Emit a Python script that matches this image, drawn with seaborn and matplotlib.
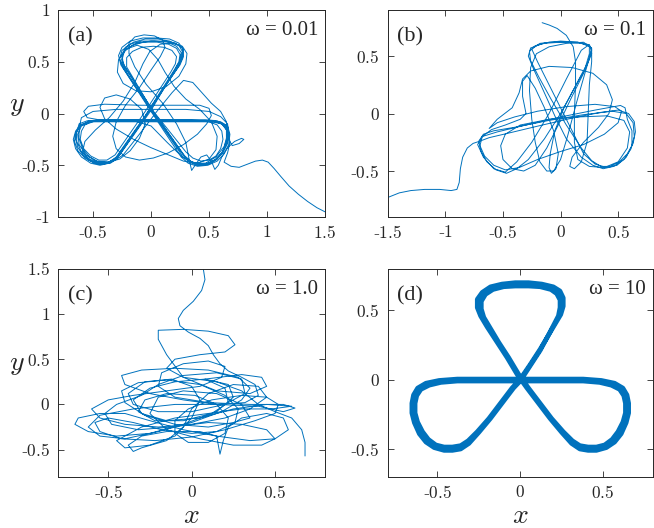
import matplotlib
matplotlib.use("Agg")
import matplotlib.pyplot as plt
import seaborn as sns

# trajectory waypoints (x, y)
traj_a = [
    # incoming tail
    (1.50, -0.95), (1.43, -0.91), (1.35, -0.85), (1.27, -0.78), (1.19, -0.70), (1.12, -0.61),
    (1.06, -0.53), (1.01, -0.47), (0.96, -0.45), (0.90, -0.46), (0.83, -0.49), (0.76, -0.52),
    (0.69, -0.51), (0.63, -0.47),
    (0.66, -0.38), (0.68, -0.28), (0.67, -0.18), (0.63, -0.11), (0.56, -0.08), (0.45, -0.07),
    (0.20, -0.07), (-0.10, -0.07), (-0.40, -0.07), (-0.53, -0.08), (-0.60, -0.11), (-0.64, -0.17),
    (-0.65, -0.25), (-0.63, -0.33), (-0.58, -0.41), (-0.51, -0.46), (-0.43, -0.49), (-0.36, -0.47),
    (-0.30, -0.42), (-0.05, -0.02), (0.20, 0.42), (0.24, 0.50), (0.25, 0.57), (0.22, 0.63),
    (0.15, 0.67), (0.05, 0.69), (-0.06, 0.69), (-0.16, 0.66), (-0.23, 0.60), (-0.25, 0.52),
    (-0.22, 0.44), (0.03, 0.00), (0.28, -0.40), (0.34, -0.46), (0.41, -0.49), (0.49, -0.48),
    (0.56, -0.44), (0.62, -0.37), (0.65, -0.28), (0.66, -0.18), (0.63, -0.11), (0.57, -0.08),
    (0.48, -0.07), (0.20, -0.07), (-0.10, -0.07), (-0.40, -0.07), (-0.54, -0.08),
    (-0.61, -0.11), (-0.65, -0.17), (-0.67, -0.25), (-0.65, -0.34), (-0.60, -0.42), (-0.52, -0.48),
    (-0.44, -0.50), (-0.36, -0.48), (-0.29, -0.43), (0.00, 0.05), (0.24, 0.46), (0.27, 0.54),
    (0.28, 0.62), (0.24, 0.68), (0.16, 0.72), (0.05, 0.73), (-0.07, 0.73), (-0.18, 0.70),
    (-0.25, 0.64), (-0.28, 0.56), (-0.26, 0.47), (0.00, 0.02), (0.26, -0.42), (0.32, -0.48),
    (0.40, -0.51), (0.49, -0.50), (0.57, -0.46), (0.63, -0.39), (0.67, -0.30), (0.68, -0.20),
    (0.66, -0.12), (0.60, -0.08), (0.50, -0.07), (0.20, -0.06), (-0.10, -0.06), (-0.40, -0.07),
    (-0.52, -0.08),
    (-0.57, -0.11), (-0.60, -0.17), (-0.61, -0.25), (-0.58, -0.34), (-0.52, -0.41), (-0.45, -0.45),
    (-0.38, -0.45), (-0.31, -0.40), (-0.05, 0.02), (0.17, 0.40), (0.21, 0.48), (0.22, 0.55),
    (0.18, 0.61), (0.11, 0.64), (0.02, 0.65), (-0.08, 0.64), (-0.16, 0.60), (-0.21, 0.54),
    (-0.21, 0.45), (0.00, 0.05), (0.30, -0.37), (0.36, -0.43), (0.43, -0.46), (0.50, -0.45),
    (0.56, -0.41), (0.60, -0.34), (0.62, -0.25), (0.61, -0.17), (0.57, -0.11), (0.50, -0.08),
    (0.40, -0.07), (0.10, -0.07),
    (-0.20, -0.07), (-0.45, -0.06), (-0.55, -0.04), (-0.58, 0.02), (-0.54, 0.07), (-0.40, 0.09),
    (-0.10, 0.08), (0.20, 0.08), (0.42, 0.08), (0.50, 0.05), (0.52, -0.02), (0.48, -0.10),
    (0.40, -0.20), (0.28, -0.30), (0.15, -0.38), (0.02, -0.43), (-0.10, -0.45), (-0.22, -0.42),
    (-0.30, -0.34), (-0.33, -0.22), (-0.30, -0.08), (-0.22, 0.08), (-0.10, 0.25), (0.00, 0.42),
    (0.08, 0.55), (0.12, 0.64), (0.10, 0.71), (0.03, 0.75), (-0.06, 0.76), (-0.14, 0.74),
    (-0.19, 0.68), (-0.19, 0.58), (-0.14, 0.45), (-0.04, 0.28), (0.10, 0.10), (0.22, -0.10),
    (0.30, -0.28), (0.33, -0.45), (0.35, -0.55), (0.38, -0.50), (0.43, -0.42), (0.48, -0.40),
    (0.52, -0.46), (0.55, -0.54), (0.58, -0.50), (0.61, -0.42), (0.66, -0.33), (0.72, -0.27),
    (0.78, -0.24), (0.80, -0.25), (0.76, -0.29), (0.70, -0.31), (0.67, -0.25), (0.66, -0.16),
    (0.61, -0.10), (0.52, -0.08), (0.30, -0.08), (0.00, -0.08), (-0.30, -0.08), (-0.50, -0.08),
    (-0.60, -0.12), (-0.63, -0.20), (-0.62, -0.30), (-0.56, -0.40), (-0.47, -0.46), (-0.37, -0.47),
    (-0.27, -0.44), (-0.18, -0.36), (-0.10, -0.24), (-0.05, -0.10), (-0.08, 0.04), (-0.18, 0.14),
    (-0.30, 0.18), (-0.40, 0.15), (-0.44, 0.06), (-0.40, -0.05), (-0.30, -0.15), (-0.15, -0.25),
    (0.00, -0.33), (0.15, -0.40), (0.28, -0.46), (0.40, -0.48), (0.50, -0.44), (0.56, -0.35),
    (0.57, -0.22), (0.52, -0.08), (0.42, 0.04), (0.30, 0.14), (0.20, 0.26), (0.12, 0.40),
    (0.06, 0.52), (-0.02, 0.62), (-0.12, 0.66), (-0.22, 0.62), (-0.28, 0.52), (-0.29, 0.40),
    (-0.24, 0.29), (-0.13, 0.22), (0.00, 0.21), (0.13, 0.26), (0.24, 0.36), (0.30, 0.48),
    (0.31, 0.58), (0.27, 0.65), (0.18, 0.68), (0.08, 0.67), (-0.01, 0.60), (-0.07, 0.48),
    (-0.14, 0.30), (-0.24, 0.12), (-0.36, -0.04), (-0.48, -0.16), (-0.57, -0.27), (-0.59, -0.37),
    (-0.54, -0.45), (-0.45, -0.49), (-0.35, -0.48), (-0.24, -0.40), (-0.10, -0.20), (0.05, 0.02),
    (0.18, 0.20), (0.28, 0.32), (0.36, 0.30), (0.44, 0.20), (0.52, 0.10), (0.60, 0.02),
    (0.65, -0.08), (0.66, -0.20), (0.63, -0.32), (0.56, -0.42), (0.47, -0.48), (0.37, -0.48),
    (0.27, -0.42), (0.14, -0.28), (0.00, -0.12), (-0.15, -0.07), (-0.35, -0.06), (-0.53, -0.07),
    (-0.61, -0.12), (-0.65, -0.19), (-0.66, -0.27), (-0.63, -0.36), (-0.57, -0.43), (-0.49, -0.48),
    (-0.41, -0.49), (-0.33, -0.46), (-0.27, -0.40), (0.00, 0.03), (0.21, 0.43), (0.25, 0.51),
    (0.26, 0.59), (0.22, 0.65), (0.14, 0.69), (0.03, 0.70), (-0.08, 0.70), (-0.18, 0.67),
    (-0.25, 0.61), (-0.27, 0.53), (-0.24, 0.44), (0.02, 0.00), (0.27, -0.41), (0.33, -0.47),
    (0.40, -0.50), (0.48, -0.49), (0.56, -0.45), (0.62, -0.38), (0.66, -0.29), (0.67, -0.19),
    (0.64, -0.11), (0.57, -0.07), (0.47, -0.06), (0.20, -0.06), (-0.10, -0.06), (-0.40, -0.06),
    (-0.55, -0.07),
    (-0.62, -0.10), (-0.64, -0.18), (-0.64, -0.27), (-0.60, -0.37), (-0.53, -0.44), (-0.44, -0.48),
    (-0.35, -0.47), (-0.28, -0.41), (-0.12, -0.15), (0.05, 0.15), (0.18, 0.36), (0.25, 0.47),
    (0.28, 0.55), (0.27, 0.63), (0.21, 0.68), (0.12, 0.70), (0.00, 0.70), (-0.12, 0.68),
    (-0.21, 0.63), (-0.25, 0.56), (-0.25, 0.48), (-0.20, 0.38), (-0.05, 0.12), (0.12, -0.15),
    (0.25, -0.36), (0.32, -0.45), (0.40, -0.49), (0.48, -0.49), (0.55, -0.45), (0.61, -0.38),
    (0.65, -0.30), (0.67, -0.20), (0.66, -0.10), (0.60, -0.03), (0.50, 0.02), (0.30, 0.04),
    (0.00, 0.04), (-0.30, 0.04), (-0.50, 0.02), (-0.60, -0.04),
    (-0.62, -0.14), (-0.62, -0.24), (-0.59, -0.34), (-0.53, -0.42), (-0.45, -0.47), (-0.37, -0.47),
    (-0.30, -0.43), (-0.02, 0.02), (0.22, 0.44), (0.26, 0.52), (0.27, 0.60), (0.24, 0.66),
    (0.16, 0.70), (0.06, 0.72), (-0.05, 0.72), (-0.15, 0.69), (-0.22, 0.64), (-0.25, 0.57),
    (-0.24, 0.48), (0.02, 0.02), (0.29, -0.41), (0.35, -0.47), (0.42, -0.50), (0.50, -0.49),
    (0.57, -0.44), (0.62, -0.36), (0.65, -0.26), (0.65, -0.16), (0.61, -0.10), (0.54, -0.07),
    (0.45, -0.07),
]

traj_b = [
    # incoming tail
    (-1.50, -0.73), (-1.40, -0.69), (-1.30, -0.67), (-1.18, -0.66), (-1.05, -0.66), (-0.95, -0.67),
    (-0.90, -0.66), (-0.88, -0.60), (-0.87, -0.48), (-0.85, -0.38), (-0.81, -0.30), (-0.76, -0.26),
    (-0.70, -0.24),
    (-0.62, -0.21), (-0.45, -0.17), (-0.20, -0.11), (0.10, -0.04), (0.35, 0.01), (0.50, 0.03),
    (0.59, 0.00), (0.64, -0.07), (0.65, -0.16), (0.63, -0.26), (0.58, -0.35), (0.51, -0.42),
    (0.43, -0.46), (0.35, -0.46), (0.27, -0.41), (0.18, -0.30), (0.05, -0.10), (-0.08, 0.12),
    (-0.19, 0.32), (-0.26, 0.46), (-0.27, 0.54), (-0.22, 0.59), (-0.10, 0.62), (0.05, 0.62),
    (0.18, 0.61), (0.26, 0.58), (0.27, 0.52), (0.22, 0.40), (0.12, 0.22), (0.00, 0.00),
    (-0.14, -0.22), (-0.28, -0.40), (-0.38, -0.48), (-0.47, -0.52), (-0.56, -0.49), (-0.64, -0.42),
    (-0.69, -0.33), (-0.71, -0.24), (-0.67, -0.18), (-0.58, -0.15),
    (-0.40, -0.12), (-0.10, -0.06), (0.20, -0.01), (0.45, 0.02), (0.57, 0.00), (0.63, -0.08),
    (0.64, -0.20), (0.61, -0.31), (0.55, -0.40), (0.46, -0.46), (0.37, -0.48), (0.28, -0.45),
    (0.18, -0.38), (0.05, -0.22), (-0.05, -0.02), (-0.15, 0.20), (-0.24, 0.40), (-0.28, 0.50),
    (-0.26, 0.57), (-0.15, 0.61), (0.00, 0.62), (0.15, 0.62), (0.24, 0.60), (0.27, 0.56),
    (0.24, 0.45), (0.15, 0.28), (0.03, 0.05), (-0.05, -0.15), (-0.09, -0.35), (-0.10, -0.47),
    (-0.08, -0.52), (-0.04, -0.48), (-0.02, -0.35), (-0.06, -0.15), (-0.14, 0.05), (-0.22, 0.22),
    (-0.29, 0.33), (-0.33, 0.28), (-0.33, 0.15), (-0.30, 0.00),
    (-0.35, -0.05), (-0.48, -0.10), (-0.60, -0.14), (-0.68, -0.20), (-0.70, -0.28), (-0.66, -0.37),
    (-0.58, -0.45), (-0.48, -0.49), (-0.36, -0.47), (-0.20, -0.40), (0.00, -0.33), (0.20, -0.27),
    (0.38, -0.18), (0.50, -0.08), (0.53, 0.02), (0.47, 0.06), (0.30, 0.08), (0.05, 0.06),
    (-0.20, 0.02), (-0.40, -0.03), (-0.55, -0.08),
    (-0.62, -0.13), (-0.55, -0.05), (-0.42, 0.05), (-0.36, 0.18), (-0.33, 0.30), (-0.26, 0.37),
    (-0.10, 0.41), (0.10, 0.40), (0.28, 0.35), (0.40, 0.25), (0.45, 0.12), (0.42, 0.00),
    (0.33, -0.12), (0.20, -0.25), (0.10, -0.38), (0.08, -0.46), (0.12, -0.48), (0.18, -0.42),
    (0.23, -0.25), (0.24, 0.00), (0.25, 0.25), (0.27, 0.45), (0.27, 0.57), (0.20, 0.62),
    (0.05, 0.61), (-0.10, 0.58), (-0.21, 0.52), (-0.26, 0.40), (-0.27, 0.20), (-0.25, -0.05),
    (-0.22, -0.25), (-0.18, -0.42), (-0.12, -0.50), (-0.06, -0.50), (0.00, -0.40), (0.06, -0.20),
    (0.14, 0.10), (0.22, 0.38), (0.27, 0.55), (0.25, 0.60),
    (0.18, 0.55), (0.05, 0.30), (-0.10, 0.00), (-0.25, -0.25), (-0.38, -0.42), (-0.48, -0.51),
    (-0.58, -0.48), (-0.67, -0.38), (-0.72, -0.27), (-0.68, -0.20), (-0.55, -0.16), (-0.30, -0.10),
    (0.00, -0.03), (0.30, 0.03), (0.52, 0.07), (0.56, 0.05), (0.58, -0.05), (0.62, -0.15),
    (0.62, -0.28), (0.57, -0.38), (0.49, -0.45), (0.40, -0.47), (0.30, -0.44), (0.20, -0.35),
    (0.10, -0.15), (0.00, 0.05), (-0.10, 0.25), (-0.20, 0.45), (-0.25, 0.56), (-0.18, 0.61),
    (0.00, 0.63), (0.15, 0.62), (0.25, 0.59),
    (0.25, 0.52), (0.20, 0.35), (0.10, 0.15), (-0.02, -0.10), (-0.12, -0.30), (-0.22, -0.45),
    (-0.32, -0.50), (-0.42, -0.48), (-0.50, -0.40), (-0.52, -0.28), (-0.48, -0.18), (-0.35, -0.10),
    (-0.10, -0.05), (0.15, -0.03), (0.40, -0.02), (0.55, -0.06), (0.60, -0.16), (0.58, -0.30),
    (0.50, -0.42), (0.38, -0.47), (0.25, -0.46), (0.15, -0.40), (0.12, -0.25), (0.12, 0.00),
    (0.13, 0.25), (0.13, 0.45), (0.11, 0.58), (0.05, 0.68), (-0.03, 0.74), (-0.10, 0.77),
    (-0.16, 0.79),
]

traj_c = [
    # incoming tail from the top
    (0.07, 1.50), (0.08, 1.38), (0.06, 1.26), (0.01, 1.14), (-0.05, 1.04), (-0.08, 0.95),
    (-0.07, 0.87), (-0.02, 0.80), (0.05, 0.73), (0.10, 0.65), (0.13, 0.55), (0.17, 0.45),
    (0.22, 0.37), (0.30, 0.30), (0.38, 0.22), (0.40, 0.10), (0.32, 0.02), (0.15, 0.00),
    (-0.05, 0.05), (-0.25, 0.12), (-0.40, 0.22), (-0.42, 0.32), (-0.30, 0.38), (-0.10, 0.40),
    (0.10, 0.38), (0.28, 0.30), (0.35, 0.18), (0.30, 0.05), (0.18, -0.08), (0.00, -0.20),
    (-0.20, -0.30), (-0.40, -0.38), (-0.55, -0.35), (-0.62, -0.25), (-0.55, -0.12), (-0.35, -0.05),
    (-0.10, 0.00), (0.15, 0.00), (0.40, -0.02), (0.55, -0.08), (0.62, -0.04), (0.55, 0.00),
    (0.35, 0.00), (0.10, 0.02), (-0.10, 0.08), (-0.20, 0.20), (-0.18, 0.35), (-0.05, 0.45),
    (0.10, 0.48), (0.20, 0.42), (0.18, 0.30), (0.05, 0.20), (-0.15, 0.15), (-0.35, 0.10),
    (-0.50, 0.05), (-0.60, -0.05), (-0.55, -0.15), (-0.40, -0.22), (-0.20, -0.25), (0.00, -0.22),
    (0.20, -0.15), (0.35, -0.05), (0.45, 0.08), (0.40, 0.20), (0.25, 0.22), (0.10, 0.12),
    (0.00, -0.05), (-0.05, -0.25), (-0.15, -0.40), (-0.30, -0.48), (-0.35, -0.52), (-0.38, -0.45),
    (-0.30, -0.35), (-0.15, -0.30), (0.05, -0.30), (0.15, -0.35), (0.17, -0.55), (0.19, -0.40),
    (0.22, -0.25), (0.30, -0.15), (0.45, -0.10), (0.55, -0.15), (0.58, -0.28), (0.50, -0.38),
    (0.35, -0.40), (0.15, -0.35), (-0.05, -0.28), (-0.25, -0.18), (-0.40, -0.10), (-0.55, -0.10),
    (-0.68, -0.15), (-0.70, -0.22), (-0.62, -0.30), (-0.45, -0.35), (-0.25, -0.32), (-0.05, -0.22),
    (0.15, -0.08), (0.25, 0.08), (0.22, 0.22), (0.08, 0.28), (-0.10, 0.25), (-0.25, 0.18),
    (-0.35, 0.05), (-0.30, -0.10), (-0.15, -0.18), (0.05, -0.15), (0.25, -0.05), (0.45, 0.00),
    (0.60, -0.02), (0.48, -0.05), (0.30, -0.05), (0.10, -0.10), (-0.10, -0.15), (-0.30, -0.25),
    (-0.45, -0.40), (-0.40, -0.48), (-0.25, -0.45), (-0.10, -0.35), (0.00, -0.15), (0.05, 0.05),
    (0.00, 0.20), (-0.12, 0.28), (-0.28, 0.25), (-0.38, 0.12), (-0.35, 0.00), (-0.20, -0.08),
    (0.00, -0.08), (0.20, 0.00), (0.32, 0.12), (0.30, 0.28), (0.15, 0.35), (-0.05, 0.32),
    (-0.20, 0.22), (-0.30, 0.10), (-0.45, 0.00), (-0.52, -0.10), (-0.48, -0.22), (-0.32, -0.28),
    (-0.12, -0.25), (0.10, -0.20), (0.30, -0.22), (0.45, -0.28), (0.50, -0.38), (0.42, -0.45),
    (0.25, -0.45), (0.05, -0.38), (-0.15, -0.28), (-0.25, -0.10), (-0.20, 0.08), (-0.05, 0.15),
    (0.15, 0.12), (0.30, 0.00), (0.35, -0.15), (0.25, -0.20), (0.10, -0.25), (-0.10, -0.22),
    (-0.28, -0.12), (-0.40, 0.02), (-0.42, 0.15), (-0.32, 0.24), (-0.15, 0.27), (0.05, 0.22),
    (0.20, 0.10), (0.28, -0.05), (0.26, -0.20), (0.15, -0.30), (0.00, -0.32), (-0.18, -0.28),
    (-0.35, -0.20), (-0.50, -0.15), (-0.58, -0.20), (-0.55, -0.30), (-0.42, -0.38), (-0.22, -0.40),
    (0.00, -0.36), (0.20, -0.28), (0.38, -0.18), (0.50, -0.10), (0.52, 0.00), (0.45, 0.08),
    (0.30, 0.10), (0.12, 0.05), (-0.02, -0.05), (-0.10, -0.18), (-0.10, -0.32), (-0.02, -0.42),
    (0.10, -0.42), (0.20, -0.32), (0.22, -0.15), (0.15, 0.00), (0.02, 0.10), (-0.15, 0.12),
    (-0.28, 0.05), (-0.32, -0.08), (-0.22, -0.18), (-0.05, -0.18), (0.12, -0.10), (0.22, 0.02),
    (0.20, 0.18), (0.08, 0.28), (0.30, 0.33), (0.42, 0.30), (0.45, 0.20), (0.35, 0.12),
    (0.15, 0.15), (-0.05, 0.30), (-0.15, 0.55), (-0.20, 0.72), (-0.20, 0.82), (-0.05, 0.83),
    (0.10, 0.81), (0.22, 0.76), (0.26, 0.66), (0.20, 0.58), (0.05, 0.55), (-0.10, 0.50),
    (-0.15, 0.40), (-0.05, 0.30), (0.15, 0.25), (0.30, 0.15), (0.40, 0.00), (0.50, -0.08),
    (0.60, -0.15), (0.66, -0.28), (0.68, -0.42), (0.68, -0.57),
]

# omega = 10: an outer and an inner pass of the three-lobed orbit
traj_d = [
    (0.00, 0.005), (0.06, 0.11), (0.12, 0.22), (0.17, 0.32), (0.21, 0.40), (0.245, 0.47),
    (0.26, 0.53), (0.26, 0.59), (0.24, 0.64), (0.20, 0.67), (0.13, 0.69), (0.05, 0.70),
    (-0.03, 0.70), (-0.11, 0.69), (-0.18, 0.67), (-0.23, 0.63), (-0.26, 0.58), (-0.26, 0.52),
    (-0.24, 0.46), (-0.20, 0.38), (-0.14, 0.27), (-0.08, 0.16), (-0.02, 0.04), (0.04, -0.06),
    (0.11, -0.17), (0.18, -0.28), (0.25, -0.38), (0.31, -0.46), (0.36, -0.50), (0.41, -0.51),
    (0.46, -0.51), (0.52, -0.49), (0.57, -0.45), (0.61, -0.39), (0.64, -0.31), (0.655, -0.24),
    (0.655, -0.17), (0.645, -0.11), (0.62, -0.06), (0.57, -0.025), (0.49, -0.005), (0.38, 0.005),
    (0.25, 0.005), (0.12, 0.005), (0.00, 0.005), (-0.12, 0.005), (-0.25, 0.005), (-0.38, 0.005),
    (-0.49, -0.005), (-0.57, -0.025), (-0.62, -0.06), (-0.645, -0.11), (-0.655, -0.17), (-0.655, -0.24),
    (-0.64, -0.31), (-0.61, -0.39), (-0.57, -0.45), (-0.52, -0.49), (-0.46, -0.51), (-0.41, -0.51),
    (-0.36, -0.50), (-0.31, -0.46), (-0.25, -0.38), (-0.18, -0.28), (-0.11, -0.17), (-0.04, -0.06),
    (0.00, -0.01), (0.06, 0.10), (0.12, 0.21), (0.165, 0.31), (0.20, 0.39), (0.23, 0.46),
    (0.24, 0.52), (0.24, 0.575), (0.22, 0.62), (0.185, 0.65), (0.12, 0.67), (0.05, 0.675),
    (-0.03, 0.675), (-0.10, 0.67), (-0.165, 0.65), (-0.21, 0.615), (-0.235, 0.565), (-0.235, 0.51),
    (-0.22, 0.45), (-0.18, 0.37), (-0.13, 0.27), (-0.07, 0.16), (-0.01, 0.04), (0.05, -0.06),
    (0.12, -0.17), (0.19, -0.28), (0.26, -0.375), (0.315, -0.44), (0.36, -0.475), (0.41, -0.485),
    (0.46, -0.485), (0.51, -0.47), (0.555, -0.43), (0.59, -0.375), (0.62, -0.305), (0.635, -0.24),
    (0.635, -0.17), (0.625, -0.115), (0.60, -0.07), (0.55, -0.04), (0.48, -0.02), (0.38, -0.01),
    (0.25, -0.01), (0.12, -0.01), (0.00, -0.01), (-0.12, -0.01), (-0.25, -0.01), (-0.38, -0.01),
    (-0.48, -0.02), (-0.55, -0.04), (-0.60, -0.07), (-0.625, -0.115), (-0.635, -0.17), (-0.635, -0.24),
    (-0.62, -0.305), (-0.59, -0.375), (-0.555, -0.43), (-0.51, -0.47), (-0.46, -0.485), (-0.41, -0.485),
    (-0.36, -0.475), (-0.315, -0.44), (-0.26, -0.375), (-0.19, -0.28), (-0.12, -0.17), (-0.05, -0.06),
    (0.00, 0.005),
]

panel_tags = ["(a)", "(b)", "(c)", "(d)"]
omega_labels = ["\u03c9 = 0.01", "\u03c9 = 0.1", "\u03c9 = 1.0", "\u03c9 = 10"]
xlims = [(-0.8, 1.5), (-1.5, 0.8), (-0.8, 0.8), (-0.8, 0.8)]
ylims = [(-1, 1), (-0.9, 0.9), (-0.8, 1.5), (-0.7, 0.8)]
xticks = [[-0.5, 0, 0.5, 1, 1.5], [-1.5, -1, -0.5, 0, 0.5], [-0.5, 0, 0.5], [-0.5, 0, 0.5]]
yticks = [[-1, -0.5, 0, 0.5, 1], [-0.5, 0, 0.5], [-0.5, 0, 0.5, 1, 1.5], [-0.5, 0, 0.5]]


def tick_text(v):
    # hyphen for negatives, Computer Modern digits
    if v < 0:
        return "-$" + f"{abs(v):g}" + "$"
    return "$" + f"{v:g}" + "$"


sns.set_style("ticks")
plt.rcParams['font.family'] = ['Liberation Serif', 'DejaVu Serif']
plt.rcParams['mathtext.fontset'] = 'cm'
plt.rcParams['axes.unicode_minus'] = False

blue = "#0072BD"
fig = plt.figure(figsize=(6.54, 5.28), dpi=100)
boxes = [[0.089, 0.589, 0.408, 0.392], [0.593, 0.589, 0.405, 0.392],
         [0.089, 0.097, 0.408, 0.394], [0.593, 0.097, 0.405, 0.394]]
trajs = [traj_a, traj_b, traj_c, traj_d]
widths = [0.7, 0.7, 0.7, 3.3]

for i, box in enumerate(boxes):
    ax = fig.add_axes(box)
    xs = [p[0] for p in trajs[i]]
    ys = [p[1] for p in trajs[i]]
    sns.lineplot(x=xs, y=ys, sort=False, estimator=None, color=blue, lw=widths[i], ax=ax)
    ax.set_xlim(xlims[i])
    ax.set_ylim(ylims[i])
    ax.set_xticks(xticks[i])
    ax.set_yticks(yticks[i])
    ax.set_xticklabels([tick_text(v) for v in xticks[i]])
    ax.set_yticklabels([tick_text(v) for v in yticks[i]])
    ax.tick_params(direction='in', top=True, right=True, length=4, width=0.6,
                   labelsize=12.5, colors='#262626', pad=6)
    for s in ax.spines.values():
        s.set_linewidth(0.7)
        s.set_color('#262626')
    ax.text(0.035, 0.87, panel_tags[i], transform=ax.transAxes, fontsize=16, va='center')
    ax.text(0.975, 0.90, omega_labels[i], transform=ax.transAxes, fontsize=15,
            ha='right', va='center')
    if i in (0, 2):
        ax.set_ylabel("$y$", fontsize=20, rotation=0, va='center', ha='center')
        ax.yaxis.set_label_coords(-0.155, 0.54)
    if i in (2, 3):
        ax.set_xlabel("$x$", fontsize=20, va='center')
        ax.xaxis.set_label_coords(0.5, -0.19)

fig.savefig("out.png", dpi=100)
